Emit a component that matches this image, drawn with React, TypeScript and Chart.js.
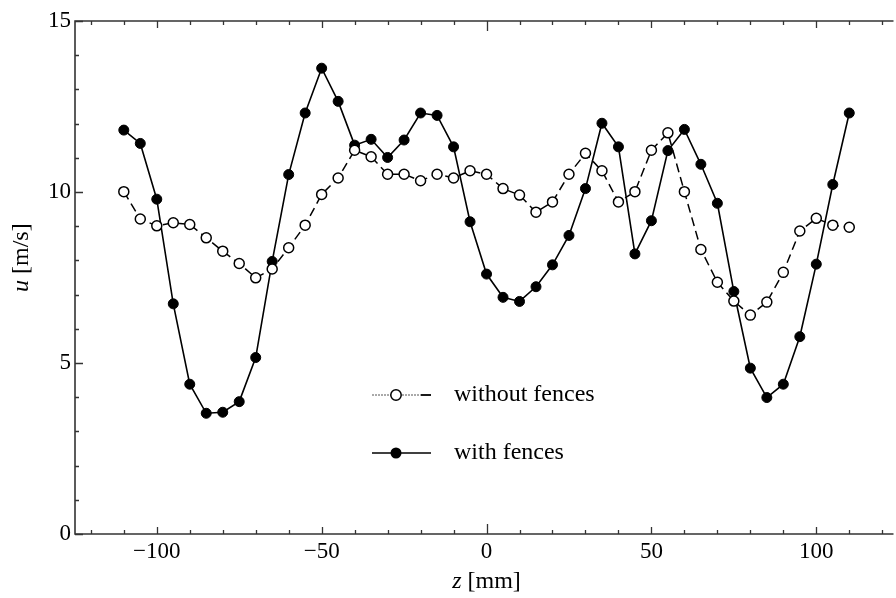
import React, { useEffect, useRef } from 'react';
import { Chart, registerables } from 'chart.js';

Chart.register(...registerables);

// ---- data ----
const zPositions = [
  -110, -105, -100, -95, -90, -85, -80, -75, -70, -65, -60, -55, -50, -45, -40,
  -35, -30, -25, -20, -15, -10, -5, 0, 5, 10, 15, 20, 25, 30, 35, 40, 45, 50,
  55, 60, 65, 70, 75, 80, 85, 90, 95, 100, 105, 110,
];

const withoutFences = [
  10.01, 9.21, 9.01, 9.1, 9.05, 8.66, 8.27, 7.91, 7.49, 7.75, 8.37, 9.03, 9.93,
  10.41, 11.22, 11.03, 10.52, 10.52, 10.33, 10.52, 10.41, 10.62, 10.52, 10.1,
  9.91, 9.41, 9.71, 10.52, 11.13, 10.62, 9.71, 10.01, 11.22, 11.73, 10.01, 8.32,
  7.36, 6.81, 6.4, 6.78, 7.65, 8.86, 9.23, 9.03, 8.97,
];

const withFences = [
  11.81, 11.42, 9.79, 6.73, 4.38, 3.53, 3.56, 3.87, 5.16, 7.97, 10.51, 12.31,
  13.62, 12.65, 11.37, 11.54, 11.01, 11.52, 12.31, 12.24, 11.32, 9.13, 7.6,
  6.92, 6.8, 7.23, 7.87, 8.73, 10.1, 12.01, 11.32, 8.19, 9.16, 11.21, 11.83,
  10.81, 9.67, 7.09, 4.85, 3.99, 4.38, 5.77, 7.89, 10.22, 12.31,
];

const seriesLabels = ['without fences', 'with fences'];

const xMajorTicks = [-100, -50, 0, 50, 100];
const xMinorTicks = [
  -120, -110, -90, -80, -70, -60, -40, -30, -20, -10, 10, 20, 30, 40, 60, 70,
  80, 90, 110, 120,
];
const yMajorTicks = [0, 5, 10, 15];
const yMinorTicks = [1, 2, 3, 4, 6, 7, 8, 9, 11, 12, 13, 14];

const FONT = '"Liberation Serif", "Times New Roman", serif';
const AXIS = '#333333';

const fmt = (v: number) => (v < 0 ? '\u2212' + Math.abs(v) : String(v));

const decorPlugin = {
  id: 'decor',
  afterDraw(chart: any) {
    const { ctx, chartArea, scales } = chart;
    const { left, right, top, bottom } = chartArea;
    const x = scales.x;
    const y = scales.y;
    ctx.save();
    // frame
    ctx.strokeStyle = AXIS;
    ctx.lineWidth = 1.6;
    ctx.beginPath();
    ctx.moveTo(right + 4, top);
    ctx.lineTo(left, top);
    ctx.lineTo(left, bottom);
    ctx.lineTo(right + 4, bottom);
    ctx.stroke();

    // ticks (inward)
    ctx.lineWidth = 1.3;
    ctx.beginPath();
    const xt = (v: number, len: number) => {
      const px = Math.round(x.getPixelForValue(v)) + 0.5;
      ctx.moveTo(px, bottom);
      ctx.lineTo(px, bottom - len);
      ctx.moveTo(px, top);
      ctx.lineTo(px, top + len);
    };
    xMajorTicks.forEach((v) => xt(v, v === 0 ? 10 : 7));
    xMinorTicks.forEach((v) => xt(v, 4));
    const yt = (v: number, len: number) => {
      const py = Math.round(y.getPixelForValue(v)) + 0.5;
      ctx.moveTo(left, py);
      ctx.lineTo(left + len, py);
    };
    yMajorTicks.forEach((v) => yt(v, 8));
    yMinorTicks.forEach((v) => yt(v, 4));
    ctx.stroke();

    // axis titles
    ctx.fillStyle = '#000';
    ctx.textBaseline = 'alphabetic';
    ctx.textAlign = 'left';
    ctx.font = `italic 24px ${FONT}`;
    const zW = ctx.measureText('z').width;
    ctx.font = `24px ${FONT}`;
    const restW = ctx.measureText(' [mm]').width;
    const cx = x.getPixelForValue(0);
    const startX = cx - (zW + restW) / 2;
    ctx.font = `italic 24px ${FONT}`;
    ctx.fillText('z', startX, 588);
    ctx.font = `24px ${FONT}`;
    ctx.fillText(' [mm]', startX + zW, 588);

    ctx.save();
    ctx.translate(28, 292);
    ctx.rotate(-Math.PI / 2);
    ctx.font = `italic 24px ${FONT}`;
    const uW = ctx.measureText('u').width;
    ctx.fillText('u', 0, 0);
    ctx.font = `24px ${FONT}`;
    ctx.fillText(' [m/s]', uW, 0);
    ctx.restore();

    // legend
    const lx0 = 372;
    const lx1 = 431;
    const lcx = 396;
    const ly0 = 395;
    const ly1 = 453;
    // without fences sample
    ctx.strokeStyle = '#555';
    ctx.lineWidth = 1;
    ctx.setLineDash([2, 1]);
    ctx.beginPath();
    ctx.moveTo(lx0, ly0);
    ctx.lineTo(lx1 - 10, ly0);
    ctx.stroke();
    ctx.setLineDash([]);
    ctx.strokeStyle = '#000';
    ctx.lineWidth = 1.8;
    ctx.beginPath();
    ctx.moveTo(lx1 - 10, ly0);
    ctx.lineTo(lx1, ly0);
    ctx.stroke();
    ctx.beginPath();
    ctx.arc(lcx, ly0, 5.2, 0, Math.PI * 2);
    ctx.fillStyle = '#fff';
    ctx.fill();
    ctx.lineWidth = 1.5;
    ctx.stroke();
    // with fences sample
    ctx.lineWidth = 1.6;
    ctx.beginPath();
    ctx.moveTo(lx0, ly1);
    ctx.lineTo(lx1, ly1);
    ctx.stroke();
    ctx.beginPath();
    ctx.arc(lcx, ly1, 5.5, 0, Math.PI * 2);
    ctx.fillStyle = '#000';
    ctx.fill();

    ctx.fillStyle = '#000';
    ctx.font = `24px ${FONT}`;
    ctx.textBaseline = 'middle';
    ctx.fillText(seriesLabels[0], 454, ly0);
    ctx.fillText(seriesLabels[1], 454, ly1);
    ctx.restore();
  },
};

export default function App() {
  const ref = useRef<HTMLCanvasElement | null>(null);

  useEffect(() => {
    if (!ref.current) return;
    const chart = new Chart(ref.current, {
      type: 'scatter',
      data: {
        datasets: [
          {
            label: seriesLabels[0],
            data: zPositions.map((z, i) => ({ x: z, y: withoutFences[i] })),
            showLine: true,
            borderColor: '#000',
            borderWidth: 1.5,
            borderDash: [9, 5],
            pointRadius: 5,
            pointBorderWidth: 1.5,
            pointBackgroundColor: '#fff',
            pointBorderColor: '#000',
            tension: 0,
          },
          {
            label: seriesLabels[1],
            data: zPositions.map((z, i) => ({ x: z, y: withFences[i] })),
            showLine: true,
            borderColor: '#000',
            borderWidth: 1.6,
            pointRadius: 5,
            pointBorderWidth: 1,
            pointBackgroundColor: '#000',
            pointBorderColor: '#000',
            tension: 0,
          },
        ],
      },
      options: {
        responsive: false,
        animation: false,
        layout: { padding: { left: 0, right: 0, top: 21, bottom: 0 } },
        plugins: {
          legend: { display: false },
          tooltip: { enabled: false },
        },
        scales: {
          x: {
            type: 'linear',
            min: -124.8,
            max: 122.2,
            afterFit: (s: any) => {
              s.height = 64;
            },
            grid: { display: false, drawTicks: false },
            border: { display: false },
            ticks: {
              stepSize: 50,
              autoSkip: false,
              includeBounds: false,
              maxRotation: 0,
              padding: 4,
              color: '#000',
              font: { family: FONT, size: 23 },
              callback: (v: any) => fmt(Number(v)),
            },
          },
          y: {
            type: 'linear',
            min: 0,
            max: 15,
            afterFit: (s: any) => {
              s.width = 75;
            },
            grid: { display: false, drawTicks: false },
            border: { display: false },
            ticks: {
              stepSize: 5,
              includeBounds: false,
              padding: 4,
              color: '#000',
              font: { family: FONT, size: 23 },
              callback: (v: any) => fmt(Number(v)),
            },
          },
        },
      },
      plugins: [decorPlugin],
    });
    return () => chart.destroy();
  }, []);

  return (
    <div style={{ position: 'absolute', left: 0, top: 0, width: 896, height: 598, background: '#fff' }}>
      <canvas ref={ref} width={896} height={598} style={{ display: 'block' }} />
    </div>
  );
}
